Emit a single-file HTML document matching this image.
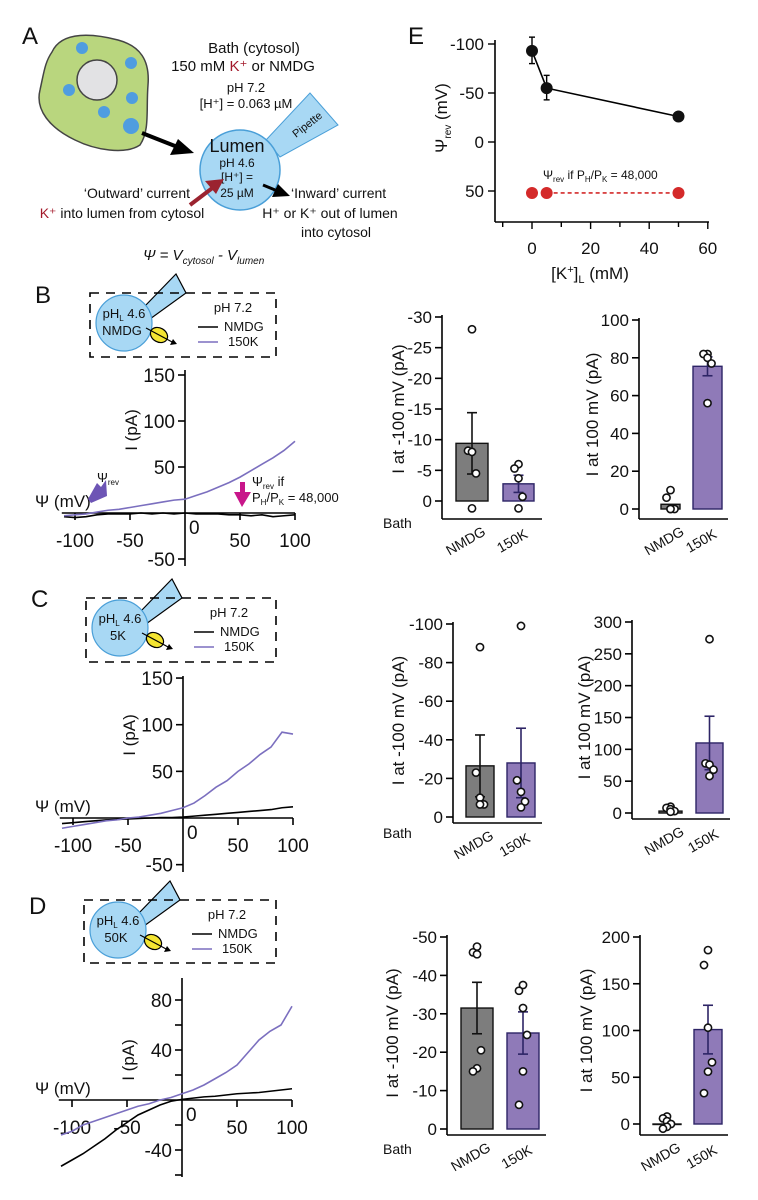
<!DOCTYPE html>
<html><head><meta charset="utf-8">
<style>
html,body{margin:0;padding:0;background:#fff;}
svg{display:block;font-family:"Liberation Sans",Arial,sans-serif;}
text{fill:#111;}
</style></head>
<body>
<svg id="fig" width="758" height="1200" viewBox="0 0 758 1200" xmlns="http://www.w3.org/2000/svg">
<!-- Panel A schematic -->
<g>
<text x="22" y="44" font-size="24">A</text>
<path d="M52,52 C62,30 95,34 118,40 C140,46 150,60 148,85 C146,110 150,130 140,145 C125,155 95,150 75,140 C50,128 35,110 40,90 C44,72 45,62 52,52 Z" fill="#b9d67e" stroke="#444" stroke-width="1.5"/>
<circle cx="97" cy="80" r="20" fill="#e2e2e4" stroke="#444" stroke-width="1.5"/>
<g fill="#4f9de0">
<circle cx="82" cy="48" r="6"/><circle cx="131" cy="63" r="6"/><circle cx="69" cy="90" r="6"/><circle cx="132" cy="98" r="6"/><circle cx="104" cy="112" r="6"/><circle cx="131" cy="126" r="8"/>
</g>
<line x1="142" y1="133" x2="180" y2="148" stroke="#000" stroke-width="4"/>
<polygon points="194,153 170,155 178,139" fill="#000"/>
<polygon points="266,140 310,93 338,125 280,157" fill="#a8d8f4" stroke="#4a9fd8" stroke-width="1"/>
<text x="0" y="0" font-size="11" transform="translate(296,138) rotate(-38)">Pipette</text>
<circle cx="240" cy="170" r="40" fill="#a8d8f4" stroke="#4a9fd8" stroke-width="1.5"/>
<g text-anchor="middle">
<text x="254" y="53" font-size="15">Bath (cytosol)</text>
<text x="243" y="71" font-size="15">150 mM <tspan fill="#a3192a" style="fill:#a3192a">K⁺</tspan> or NMDG</text>
<text x="246" y="92" font-size="13">pH 7.2</text>
<text x="246" y="108" font-size="13">[H⁺] = 0.063 µM</text>
</g>
<g text-anchor="middle">
<text x="237" y="152" font-size="18">Lumen</text>
<text x="237" y="167" font-size="12">pH 4.6</text>
<text x="237" y="181" font-size="12">[H⁺] =</text>
<text x="237" y="197" font-size="12">25 µM</text>
</g>
<line x1="190" y1="205" x2="215" y2="186" stroke="#9b2330" stroke-width="4"/>
<polygon points="224,179 205,181 216,194" fill="#9b2330"/>
<line x1="263" y1="185" x2="280" y2="192" stroke="#000" stroke-width="3"/>
<polygon points="290,196 272,197 278,184" fill="#000"/>
<text x="190" y="198" font-size="14" text-anchor="end">‘Outward’ current</text>
<text x="122" y="218" font-size="14" text-anchor="middle"><tspan style="fill:#a3192a">K⁺</tspan> into lumen from cytosol</text>
<text x="291" y="198" font-size="14">‘Inward’ current</text>
<text x="330" y="218" font-size="14" text-anchor="middle">H⁺ or K⁺ out of lumen</text>
<text x="336" y="237" font-size="14" text-anchor="middle">into cytosol</text>
<text x="143" y="260" font-size="15" font-style="italic">Ψ = V<tspan font-size="10" dy="4">cytosol</tspan><tspan dy="-4"> - V</tspan><tspan font-size="10" dy="4">lumen</tspan></text>
</g>
<g id="plots"></g>
</svg>
<script>
// ===== Panel E data =====
const eConc = [0, 5, 50];
const ePsi = [-93, -55, -26];
const eErrLo = [-107, -68, -30];
const eErrHi = [-80, -43, -22];
const eRed = [52, 52, 52];
const eXTicks = [0, 20, 40, 60];
const eYTicks = [-100, -50, 0, 50];

// ===== IV voltages =====
const ivV = [-110,-100,-90,-80,-70,-60,-50,-40,-30,-20,-10,0,10,20,30,40,50,60,70,80,90,100];
const ivBK = [-3,-2,-1,1,3,4,6,8,10,12,14,15,19,23,28,33,39,46,53,60,68,78];
const ivBN = [-4,-5,-4,-2,-1,-1,-1,0,-1,0,-1,0,-1,-1,-1,-2,-2,-3,-2,-4,-3,-2];
const ivCK = [-11,-9,-7,-5,-3,-2,0,1,3,5,8,11,16,24,33,40,50,58,68,76,92,90];
const ivCN = [-6,-5,-4,-3,-2,-1.5,-1,-0.5,0,0.5,0.5,1,2,3,4,5,6,7,8,9,11,12];
const ivDK = [-28,-25,-20,-17,-14,-11,-8,-5,-3,0,2,5,8,12,17,22,28,38,48,55,60,75];
const ivDN = [-53,-48,-43,-37,-31,-24,-18,-12,-8,-4,-1,0.5,1.5,2.5,3,4,5,5.5,6,7,8,9];
const ivXTicks = [-100,-50,50,100];
const ivBYTicks = [150,100,50,-50];
const ivDYTicks = [80,40,-40];

// ===== Bar data =====
const barCats = ["NMDG","150K"];
const bNegMean = [-9.4,-2.8]; const bNegErr = [5.0,1.4];
const bNegPtsN = [-28,-8.2,-8,-4.5,1.2]; const bNegPtsK = [-6,-5.3,-3.7,-0.7,1.2];
const bPosMean = [2.5,75.5]; const bPosErr = [0,5];
const bPosPtsN = [10,6,0,0,0]; const bPosPtsK = [82,82,80,77,56];
const cNegMean = [-26.5,-28]; const cNegErr = [16,18];
const cNegPtsN = [-88,-23,-10,-6.5,-6.5]; const cNegPtsK = [-99,-19,-13,-8,-5];
const cPosMean = [3,110]; const cPosErr = [0,42];
const cPosPtsN = [10,8,6,3,2]; const cPosPtsK = [273,78,76,68,58];
const dNegMean = [-31.5,-25]; const dNegErr = [6.7,5.5];
const dNegPtsN = [-47.5,-46,-45.5,-20.5,-15.8,-15]; const dNegPtsK = [-37.5,-36,-31.5,-24.5,-15,-6.3];
const dPosMean = [0,101]; const dPosErr = [0,26];
const dPosPtsN = [8,6,3,0,-3,-5]; const dPosPtsK = [186,170,103,66,56,33];
const bNegTicks=[-30,-25,-20,-15,-10,-5,0], bPosTicks=[100,80,60,40,20,0];
const cNegTicks=[-100,-80,-60,-40,-20,0], cPosTicks=[300,250,200,150,100,50,0];
const dNegTicks=[-50,-40,-30,-20,-10,0], dPosTicks=[200,150,100,50,0];

const NS="http://www.w3.org/2000/svg";
const root=document.getElementById('plots');
function mk(tag,attrs,parent){const e=document.createElementNS(NS,tag);for(const k in attrs)e.setAttribute(k,attrs[k]);(parent||root).appendChild(e);return e;}
function txt(x,y,s,size,anchor,parent){const t=mk('text',{x:x,y:y,'font-size':size,'text-anchor':anchor||'start'},parent);t.textContent=s;return t;}

// ---------- Panel E ----------
(function(){
  const g=mk('g',{});
  
  
  const X=v=>532+v*2.93, Y=v=>142+v*0.98;
  const l=txt(408,44,'E',24,'start',g);
  
  
  mk('line',{x1:495,y1:40,x2:495,y2:222,stroke:'#000','stroke-width':1.6},g);
  mk('line',{x1:495,y1:222,x2:709,y2:222,stroke:'#000','stroke-width':1.6},g);
  eYTicks.forEach(t=>{mk('line',{x1:488,y1:Y(t),x2:495,y2:Y(t),stroke:'#000','stroke-width':1.4},g);
    const tt=txt(484,Y(t)+6,String(t),17,'end',g);
    
    });
  [-10,0,10,20,30,40,50,60].forEach(t=>{mk('line',{x1:X(t),y1:222,x2:X(t),y2:t%20===0?229:227,stroke:'#000','stroke-width':1.4},g);});
  eXTicks.forEach(t=>{const tt=txt(X(t),254,String(t),17,'middle',g);
    
    });
  const xl=mk('text',{x:590,y:279,'font-size':17,'text-anchor':'middle'},g);
  xl.innerHTML='[K<tspan font-size="11" dy="-6">+</tspan><tspan dy="6">]</tspan><tspan font-size="11" dy="4">L</tspan><tspan dy="-4"> (mM)</tspan>';
  
  
  const yl=mk('text',{'font-size':17,'text-anchor':'middle',transform:'translate(447,118) rotate(-90)'},g);
  yl.innerHTML='Ψ<tspan font-size="10" dy="4">rev</tspan><tspan dy="-4"> (mV)</tspan>';
  
  
  const pl=mk('polyline',{points:eConc.map((c,i)=>X(c)+','+Y(ePsi[i])).join(' '),fill:'none',stroke:'#000','stroke-width':1.6},g);
  
  
  eConc.forEach((c,i)=>{
    mk('line',{x1:X(c),y1:Y(eErrLo[i]),x2:X(c),y2:Y(eErrHi[i]),stroke:'#000','stroke-width':1.4},g);
    mk('line',{x1:X(c)-3,y1:Y(eErrLo[i]),x2:X(c)+3,y2:Y(eErrLo[i]),stroke:'#000','stroke-width':1.4},g);
    mk('line',{x1:X(c)-3,y1:Y(eErrHi[i]),x2:X(c)+3,y2:Y(eErrHi[i]),stroke:'#000','stroke-width':1.4},g);
    const p=mk('circle',{cx:X(c),cy:Y(ePsi[i]),r:6,fill:'#111'},g);
    
    
  });
  const rl=mk('polyline',{points:eConc.slice(1).map((c,i)=>X(c)+','+Y(eRed[i+1])).join(' '),fill:'none',stroke:'#d42a2a','stroke-width':1.6,'stroke-dasharray':'4,3'},g);
  
  
  eConc.forEach((c,i)=>{const p=mk('circle',{cx:X(c),cy:Y(eRed[i]),r:6,fill:'#d42a2a'},g);
    
    });
  const an=mk('text',{x:543,y:179,'font-size':12},g);
  an.innerHTML='Ψ<tspan font-size="8" dy="3">rev</tspan><tspan dy="-3"> if P</tspan><tspan font-size="8" dy="3">H</tspan><tspan dy="-3">/P</tspan><tspan font-size="8" dy="3">K</tspan><tspan dy="-3"> = 48,000</tspan>';
  
  
})();

// ---------- Inset schematic ----------
function inset(name,letter,ly,bx,by,bw,bh,lumTxt){
  const g=mk('g',{});
  
  
  const L=txt(bx-55,ly,letter,24,'start',g);
  
  
  const cx=bx+34, cy=by+30;
  mk('polygon',{points:`${cx+20},${cy-16} ${cx+52},${cy-49} ${cx+62},${cy-30} ${cx+26},${cy-4}`,fill:'#a8d8f4',stroke:'#000','stroke-width':1.2},g);
  mk('rect',{x:bx,y:by,width:bw,height:bh,fill:'none',stroke:'#000','stroke-width':1.6,'stroke-dasharray':'9,7'},g);
  mk('circle',{cx:cx,cy:cy,r:28,fill:'#a8d8f4',stroke:'#4a9fd8','stroke-width':1.2},g);
  const t1=mk('text',{x:cx,y:cy-5,'font-size':13,'text-anchor':'middle'},g);
  t1.innerHTML='pH<tspan font-size="8" dy="3">L</tspan><tspan dy="-3"> 4.6</tspan>';
  txt(cx-2,cy+12,lumTxt,13,'middle',g);
  mk('ellipse',{cx:cx+35,cy:cy+12,rx:9,ry:7,fill:'#f4e532',stroke:'#000','stroke-width':1.2,transform:`rotate(30 ${cx+35} ${cy+12})`},g);
  mk('line',{x1:cx+22,y1:cy+5,x2:cx+50,y2:cy+20,stroke:'#000','stroke-width':1.2},g);
  mk('polygon',{points:`${cx+53},${cy+21} ${cx+46},${cy+22} ${cx+49},${cy+16}`,fill:'#000'},g);
  txt(bx+143,by+19,'pH 7.2',13,'middle',g);
  mk('line',{x1:bx+108,y1:by+34,x2:bx+128,y2:by+34,stroke:'#000','stroke-width':1.5},g);
  txt(bx+134,by+38,'NMDG',13,'start',g);
  mk('line',{x1:bx+108,y1:by+49,x2:bx+128,y2:by+49,stroke:'#7b6fbf','stroke-width':1.5},g);
  txt(bx+138,by+53,'150K',13,'start',g);
}
inset('panel-b-inset','B',303,90,293,186,64,'NMDG');
inset('panel-c-inset','C',607,86,598,190,64,'5K');
inset('panel-d-inset','D',914,84,900,192,63,'50K');

// ---------- IV plots ----------
function ivPlot(name,x0,y0,sy,yTop,yBot,yTicks,minor,kArr,nArr,ylabelY){
  const g=mk('g',{});
  
  
  const X=v=>x0+v*1.1, Y=i=>y0-i*sy;
  mk('line',{x1:x0,y1:yTop,x2:x0,y2:yBot,stroke:'#000','stroke-width':1.6},g);
  mk('line',{x1:X(-112),y1:y0,x2:X(100),y2:y0,stroke:'#000','stroke-width':1.6},g);
  ivXTicks.forEach(t=>{mk('line',{x1:X(t),y1:y0,x2:X(t),y2:y0+7,stroke:'#000','stroke-width':1.6},g);
    const tt=txt(X(t),y0+34,String(t),19,'middle',g);
    
    });
  txt(x0+4,y0+21,'0',19,'start',g);
  minor.forEach(t=>mk('line',{x1:x0-7,y1:Y(t),x2:x0,y2:Y(t),stroke:'#000','stroke-width':1.6},g));
  yTicks.forEach(t=>{mk('line',{x1:x0-7,y1:Y(t),x2:x0,y2:Y(t),stroke:'#000','stroke-width':1.6},g);
    const tt=txt(x0-10,Y(t)+7,String(t),19,'end',g);
    
    });
  const yl=txt(0,0,'I (pA)',17,'middle',g);
  yl.setAttribute('transform',`translate(${x0-48},${ylabelY}) rotate(-90)`);
  
  
  const xl=txt(35,y0-6,'Ψ (mV)',17,'start',g);
  
  
  const n=mk('polyline',{points:ivV.map((v,i)=>X(v)+','+Y(nArr[i])).join(' '),fill:'none',stroke:'#000','stroke-width':1.6},g);
  
  
  const k=mk('polyline',{points:ivV.map((v,i)=>X(v)+','+Y(kArr[i])).join(' '),fill:'none',stroke:'#7b6fbf','stroke-width':1.6},g);
  
  
  return g;
}
const gB=ivPlot('panel-b-iv',185,513,0.92,370,566,ivBYTicks,[],ivBK,ivBN,430);
ivPlot('panel-c-iv',183,818,0.933,676,872,ivBYTicks,[],ivCK,ivCN,735);
ivPlot('panel-d-iv',182,1100,1.25,978,1177,ivDYTicks,[60,20,-20,-60],ivDK,ivDN,1060);
// B annotations
(function(){
  const g=gB;
  mk('polygon',{points:'88,499 97,483 101,487 106,480 107,496 91,503',fill:'#6d55b5'},g);
  const a=mk('text',{x:97,y:482,'font-size':13},g);
  a.innerHTML='Ψ<tspan font-size="8" dy="3">rev</tspan>';
  
  
  mk('rect',{x:240,y:482,width:5,height:11,fill:'#c8168a'},g);
  mk('polygon',{points:'234,492 251,492 242,507',fill:'#c8168a'},g);
  const b=mk('text',{x:252,y:486,'font-size':13},g);
  b.innerHTML='Ψ<tspan font-size="8" dy="3">rev</tspan><tspan dy="-3"> if</tspan>';
  const c=mk('text',{x:252,y:502,'font-size':13},g);
  c.innerHTML='P<tspan font-size="8" dy="3">H</tspan><tspan dy="-3">/P</tspan><tspan font-size="8" dy="3">K</tspan><tspan dy="-3"> = 48,000</tspan>';
  
  
})();

// ---------- Bar charts ----------
function barChart(name,ax,y0,yTopVal,yTopPx,axBot,axRight,bars,means,errs,ptsN,ptsK,ticks,ylabel,ylx,bath){
  const g=mk('g',{});
  
  
  const Y=v=>y0+(v/yTopVal)*(yTopPx-y0);
  mk('line',{x1:ax,y1:Y(ticks[0])-2,x2:ax,y2:axBot,stroke:'#000','stroke-width':1.6},g);
  mk('line',{x1:ax,y1:axBot,x2:axRight,y2:axBot,stroke:'#000','stroke-width':1.6},g);
  ticks.forEach(t=>{mk('line',{x1:ax-7,y1:Y(t),x2:ax,y2:Y(t),stroke:'#000','stroke-width':1.6},g);
    const tt=txt(ax-10,Y(t)+6,String(t),17,'end',g);
    
    });
  const fills=['#7d7d7d','#8f7ab8'], strokes=['#111','#2d2466'];
  bars.forEach((b,i)=>{
    const top=Math.min(Y(means[i]),y0), h=Math.abs(Y(means[i])-y0);
    const r=mk('rect',{x:b[0],y:top,width:b[1]-b[0],height:Math.max(h,0.5),fill:fills[i],stroke:strokes[i],'stroke-width':1.4},g);
    
    
    const cx=(b[0]+b[1])/2, s=Math.sign(means[i])||1;
    if(errs[i]>0){
      mk('line',{x1:cx,y1:Y(means[i]-s*errs[i]),x2:cx,y2:Y(means[i]+s*errs[i]),stroke:strokes[i],'stroke-width':1.6},g);
      mk('line',{x1:cx-5,y1:Y(means[i]+s*errs[i]),x2:cx+5,y2:Y(means[i]+s*errs[i]),stroke:strokes[i],'stroke-width':1.6},g);
      mk('line',{x1:cx-5,y1:Y(means[i]-s*errs[i]),x2:cx+5,y2:Y(means[i]-s*errs[i]),stroke:strokes[i],'stroke-width':1.6},g);
    }
    const pts=i===0?ptsN:ptsK;
    pts.forEach((p,j)=>{const dx=(j%2===0?0:(j%4===1?-4:4));
      const c=mk('circle',{cx:cx+dx,cy:Y(p),r:3.6,fill:'#fff',stroke:'#111','stroke-width':1.6},g);
      
      });
    const ct=txt(0,0,barCats[i],14,'middle',g);
    ct.setAttribute('transform',`translate(${cx-4},${axBot+26}) rotate(-30)`);
    
    
  });
  const yl=txt(0,0,ylabel,17,'middle',g);
  yl.setAttribute('transform',`translate(${ylx},${(Y(ticks[0])+y0)/2}) rotate(-90)`);
  
  
  if(bath){const bt=txt(bath[0],bath[1],'Bath',14,'start',g);
    
    }
}
barChart('panel-b-bar-neg',442,501,-30,317,519,542,[[456,488],[503,534]],bNegMean,bNegErr,bNegPtsN,bNegPtsK,bNegTicks,'I at -100 mV (pA)',404,[383,528]);
barChart('panel-b-bar-pos',639,509,100,320,519,728,[[661,680],[693,722]],bPosMean,bPosErr,bPosPtsN,bPosPtsK,bPosTicks,'I at 100 mV (pA)',598,null);
barChart('panel-c-bar-neg',453,817,-100,624,823,542,[[466,494],[507,535]],cNegMean,cNegErr,cNegPtsN,cNegPtsK,cNegTicks,'I at -100 mV (pA)',404,[383,838]);
barChart('panel-c-bar-pos',632,813,300,622,819,730,[[659,682],[696,723]],cPosMean,cPosErr,cPosPtsN,cPosPtsK,cPosTicks,'I at 100 mV (pA)',590,null);
barChart('panel-d-bar-neg',447,1129,-50,937,1135,546,[[461,493],[507,539]],dNegMean,dNegErr,dNegPtsN,dNegPtsK,dNegTicks,'I at -100 mV (pA)',398,[383,1154]);
barChart('panel-d-bar-pos',640,1124,200,937,1135,728,[[653,681],[694,722]],dPosMean,dPosErr,dPosPtsN,dPosPtsK,dPosTicks,'I at 100 mV (pA)',592,null);
</script>
</body></html>
